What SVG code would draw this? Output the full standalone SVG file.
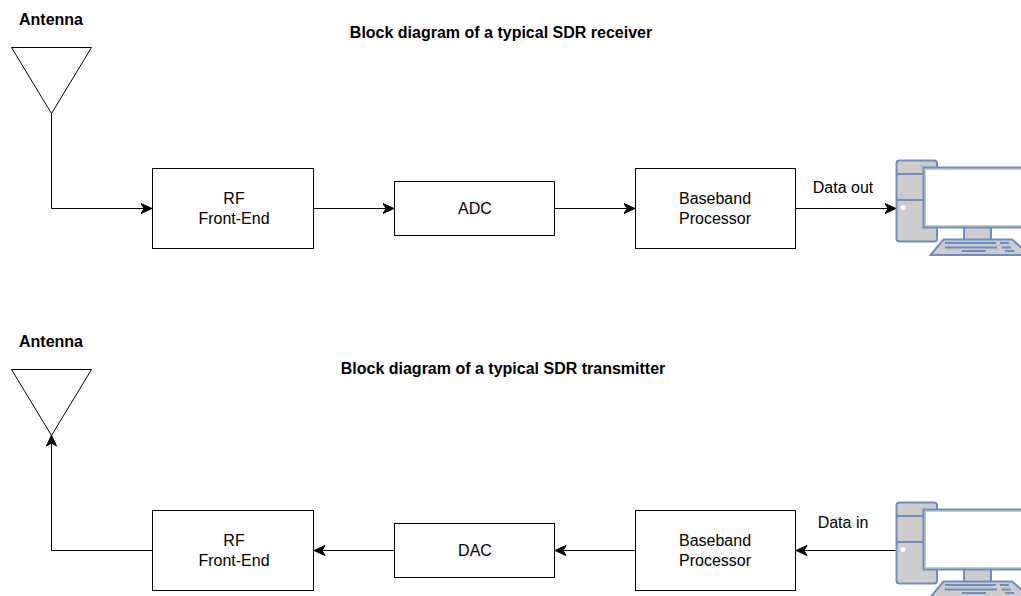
<svg xmlns="http://www.w3.org/2000/svg" xmlns:xlink="http://www.w3.org/1999/xlink" width="1021" height="596" viewBox="0 0 1021 596">
<style>
text{font-family:"Liberation Sans",Arial,sans-serif;font-size:16px;fill:#000;text-anchor:middle}
.b{font-weight:bold;font-size:16px}
.box{fill:#fff;stroke:#000;stroke-width:1}
.ant{fill:#fff;stroke:#000;stroke-width:1}
.wire{fill:none;stroke:#000;stroke-width:1;marker-end:url(#arr)}
.pc{fill:#ccc;stroke:#6c8ebf;stroke-width:2}
.pl{fill:none;stroke:#6c8ebf;stroke-width:2}
</style>
<defs>
<marker id="arr" markerUnits="userSpaceOnUse" markerWidth="13" markerHeight="12" refX="11.500" refY="6" orient="auto" viewBox="0 0 13 12">
<path d="M0.500 1L11.500 6L0.500 11L3.500 6Z" fill="#000" stroke="#000"/>
</marker>
<g id="pc">
<rect class="pc" x="896.5" y="160.5" width="40.500" height="81" rx="3"/>
<path class="pl" d="M896.500 174H923M896.500 200H923"/>
<circle cx="903" cy="207.500" r="2.500" fill="#fff"/>
<path class="pc" d="M964 227H991V240H964Z"/>
<path class="pc" d="M943.500 239.500H1012L1030 255H930.500Z"/>
<path class="pl" d="M945 243H996M1000 243H1009M945 247.500H997M1002 247.500H1011M962 251H986M1005 251H1014"/>
<rect class="pc" x="923.500" y="167.500" width="110" height="60"/>
<rect x="926" y="170" width="105" height="55" fill="#fff" stroke="none"/>
</g>
</defs>
<g id="connectors">
<path class="wire" d="M51.500 113V208.500H152"/>
<path class="wire" d="M314 208.500H394"/>
<path class="wire" d="M555 208.500H635"/>
<path class="wire" d="M796 208.500H896"/>
<path class="wire" d="M152 550.500H51.500V435"/>
<path class="wire" d="M394 550.500H314"/>
<path class="wire" d="M635 550.500H555"/>
<path class="wire" d="M896 550.500H796"/>
</g>
<g id="title-rx"><text class="b" x="501" y="38">Block diagram of a typical SDR receiver</text></g>
<g id="title-tx"><text class="b" x="503" y="374">Block diagram of a typical SDR transmitter</text></g>
<g id="antenna-rx"><text class="b" x="51" y="25">Antenna</text><path class="ant" d="M11.500 47.500H91.500L51.500 113.500Z"/></g>
<g id="antenna-tx"><text class="b" x="51" y="347">Antenna</text><path class="ant" d="M11.500 369.500H91.500L51.500 435.500Z"/></g>
<g id="rf-rx"><rect class="box" x="152.500" y="168.500" width="161" height="80"/><text x="234" y="204">RF</text><text x="234" y="224">Front-End</text></g>
<g id="adc"><rect class="box" x="394.500" y="181.500" width="160" height="54"/><text x="475" y="214">ADC</text></g>
<g id="bb-rx"><rect class="box" x="635.500" y="168.500" width="160" height="80"/><text x="715" y="204">Baseband</text><text x="715" y="224">Processor</text></g>
<g id="pc-rx"><use href="#pc"/></g>
<g id="label-out"><text x="843" y="193">Data out</text></g>
<g id="rf-tx"><rect class="box" x="152.500" y="510.500" width="161" height="80"/><text x="234" y="546">RF</text><text x="234" y="566">Front-End</text></g>
<g id="dac"><rect class="box" x="394.500" y="523.500" width="160" height="54"/><text x="475" y="556">DAC</text></g>
<g id="bb-tx"><rect class="box" x="635.500" y="510.500" width="160" height="80"/><text x="715" y="546">Baseband</text><text x="715" y="566">Processor</text></g>
<g id="pc-tx"><use href="#pc" y="342"/></g>
<g id="label-in"><text x="843" y="528">Data in</text></g>
</svg>
